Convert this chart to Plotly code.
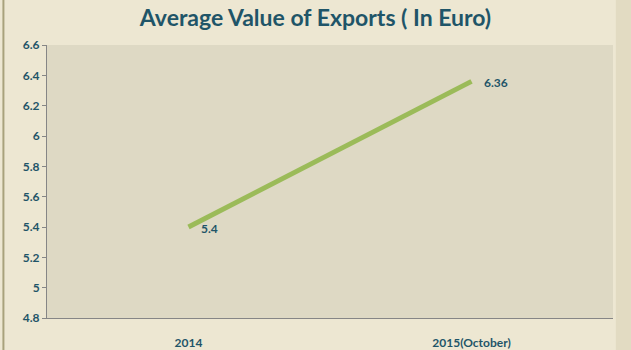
import plotly.graph_objects as go

categories = ["2014", "2015(October)"]
values = [5.4, 6.36]
labels = ["5.4", "6.36"]
y_ticks = [4.8, 5, 5.2, 5.4, 5.6, 5.8, 6, 6.2, 6.4, 6.6]
y_tick_text = ["4.8", "5", "5.2", "5.4", "5.6", "5.8", "6", "6.2", "6.4", "6.6"]

text_color = "#1F5568"
font_family = "Lato, 'Open Sans', sans-serif"

fig = go.Figure()
fig.add_trace(go.Scatter(
    x=categories, y=values, mode="lines",
    line=dict(color="#9BBB59", width=5),
    hoverinfo="skip", showlegend=False,
))

annotations = [
    dict(x=i, y=v, text=f"<b>{t}</b>", xref="x", yref="y", showarrow=False,
         xanchor="left", yanchor="middle", xshift=10, yshift=-1,
         font=dict(family=font_family, size=12, color=text_color))
    for i, (v, t) in enumerate(zip(values, labels))
]

fig.update_layout(
    width=631, height=350,
    margin=dict(l=47, r=18, t=45, b=32),
    paper_bgcolor="#EDE7D2",
    plot_bgcolor="#DED9C4",
    title=dict(text="<b>Average Value of Exports ( In Euro)</b>",
               x=0.5, xanchor="center", y=0.948, yanchor="middle",
               font=dict(family=font_family, size=23, color=text_color)),
    xaxis=dict(type="category", range=[-0.5, 1.5], showgrid=False, automargin=False,
               showline=True, linecolor="#868686", linewidth=1,
               ticks="", ticklabelstandoff=14,
               tickfont=dict(family=font_family, size=12, color=text_color, weight="bold")),
    yaxis=dict(range=[4.8, 6.6], tickvals=y_ticks, ticktext=y_tick_text, automargin=False,
               showgrid=False, zeroline=False,
               showline=True, linecolor="#868686", linewidth=1,
               ticks="outside", ticklen=4, tickcolor="#868686",
               tickfont=dict(family=font_family, size=12, color=text_color, weight="bold")),
    annotations=annotations,
    shapes=[
        dict(type="line", xref="paper", yref="paper", x0=-0.077, x1=-0.077, y0=-0.12, y1=1.17,
             line=dict(color="#A9A27C", width=2), layer="below"),
        dict(type="rect", xref="paper", yref="paper", x0=1.005, x1=1.032, y0=-0.12, y1=1.17,
             line=dict(width=0), fillcolor="#E2DBC2", layer="below"),
    ],
)

fig.write_html("out.html")
